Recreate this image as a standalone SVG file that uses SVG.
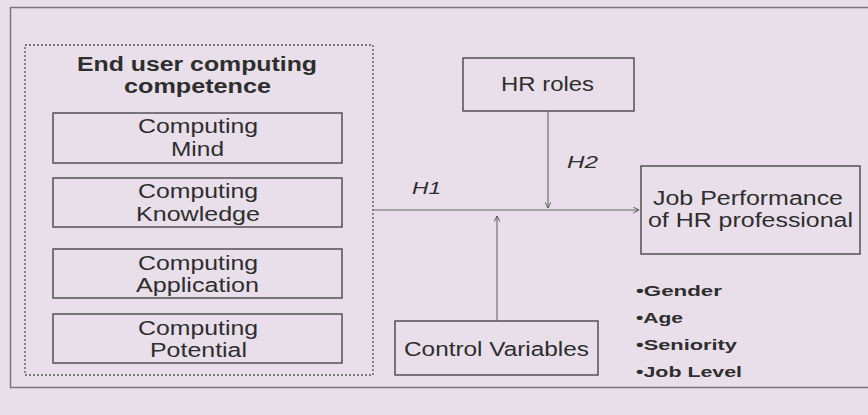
<svg xmlns="http://www.w3.org/2000/svg" width="868" height="415" viewBox="0 0 868 415">
  <defs>
    <marker id="arrow" viewBox="0 0 10 10" refX="9" refY="5" markerWidth="7" markerHeight="7" orient="auto" markerUnits="userSpaceOnUse">
      <polyline points="1,1 9,5 1,9" fill="none" stroke="#555" stroke-width="1.4"/>
    </marker>
    <style>
      .box { fill: none; stroke: #484848; stroke-width: 1.4; }
      .group { fill: none; stroke: #555; stroke-width: 1.3; stroke-dasharray: 2 2; }
      .t { font-family: "Liberation Sans", Arial, sans-serif; font-size: 20px; fill: #2e2e2e; }
      .title { font-family: "Liberation Sans", Arial, sans-serif; font-size: 20px; font-weight: bold; fill: #2e2e2e; }
      .h { font-family: "Liberation Sans", Arial, sans-serif; font-size: 17px; font-style: italic; fill: #2e2e2e; }
      .b { font-family: "Liberation Sans", Arial, sans-serif; font-size: 15px; font-weight: bold; fill: #2e2e2e; }
      .edge { fill: none; stroke: #666; stroke-width: 1.1; }
    </style>
  </defs>

  <!-- page background and frame -->
  <rect x="0" y="0" width="868" height="415" fill="#e8dfea"/>
  <rect x="10.5" y="7.5" width="870" height="380" fill="none" stroke="#777" stroke-width="1.5"/>

  <!-- competence construct with its four dimensions -->
  <g id="competence">
    <rect class="group" x="25" y="45" width="348" height="330"/>
    <text class="title" x="77" y="71" textLength="240" lengthAdjust="spacingAndGlyphs">End user computing</text>
    <text class="title" x="124" y="93" textLength="147" lengthAdjust="spacingAndGlyphs">competence</text>
  </g>

  <g id="computing-mind">
    <rect class="box" x="53" y="113" width="289" height="50"/>
    <text class="t" x="138" y="133" textLength="120" lengthAdjust="spacingAndGlyphs">Computing</text>
    <text class="t" x="171" y="156" textLength="53" lengthAdjust="spacingAndGlyphs">Mind</text>
  </g>

  <g id="computing-knowledge">
    <rect class="box" x="53" y="178" width="289" height="49"/>
    <text class="t" x="138" y="198" textLength="120" lengthAdjust="spacingAndGlyphs">Computing</text>
    <text class="t" x="136" y="221" textLength="124" lengthAdjust="spacingAndGlyphs">Knowledge</text>
  </g>

  <g id="computing-application">
    <rect class="box" x="53" y="249" width="289" height="49"/>
    <text class="t" x="138" y="270" textLength="120" lengthAdjust="spacingAndGlyphs">Computing</text>
    <text class="t" x="136" y="292" textLength="123" lengthAdjust="spacingAndGlyphs">Application</text>
  </g>

  <g id="computing-potential">
    <rect class="box" x="53" y="314" width="289" height="49"/>
    <text class="t" x="138" y="335" textLength="120" lengthAdjust="spacingAndGlyphs">Computing</text>
    <text class="t" x="150" y="357" textLength="97" lengthAdjust="spacingAndGlyphs">Potential</text>
  </g>

  <g id="hr-roles">
    <rect class="box" x="463" y="58" width="171" height="53"/>
    <text class="t" x="501" y="91" textLength="93" lengthAdjust="spacingAndGlyphs">HR roles</text>
  </g>

  <g id="job-performance">
    <rect class="box" x="641" y="166" width="219" height="88"/>
    <text class="t" x="653" y="205" textLength="190" lengthAdjust="spacingAndGlyphs">Job Performance</text>
    <text class="t" x="648" y="227" textLength="205" lengthAdjust="spacingAndGlyphs">of HR professional</text>
  </g>

  <g id="control-variables">
    <rect class="box" x="395" y="321" width="203" height="54"/>
    <text class="t" x="404" y="356" textLength="185" lengthAdjust="spacingAndGlyphs">Control Variables</text>
  </g>

  <g id="control-list">
    <text class="b" x="636" y="296" textLength="86" lengthAdjust="spacingAndGlyphs">•Gender</text>
    <text class="b" x="636" y="323" textLength="47" lengthAdjust="spacingAndGlyphs">•Age</text>
    <text class="b" x="636" y="350" textLength="101" lengthAdjust="spacingAndGlyphs">•Seniority</text>
    <text class="b" x="636" y="377" textLength="106" lengthAdjust="spacingAndGlyphs">•Job Level</text>
  </g>

  <!-- connectors -->
  <g id="connectors">
    <line class="edge" x1="373" y1="210" x2="639" y2="210" marker-end="url(#arrow)"/>
    <line class="edge" x1="548" y1="111" x2="548" y2="208" marker-end="url(#arrow)"/>
    <line class="edge" x1="497" y1="321" x2="497" y2="216" marker-end="url(#arrow)"/>
    <text class="h" x="412" y="194" textLength="29" lengthAdjust="spacingAndGlyphs">H1</text>
    <text class="h" x="567" y="168" textLength="31" lengthAdjust="spacingAndGlyphs">H2</text>
  </g>
</svg>
